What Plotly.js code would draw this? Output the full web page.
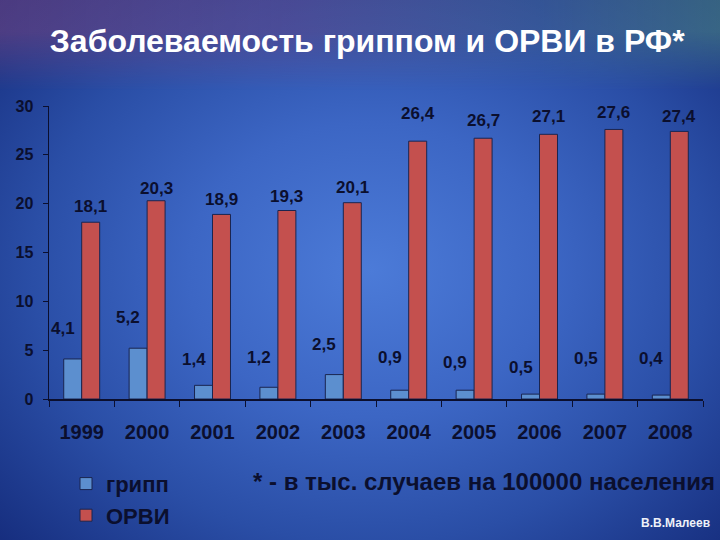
<!DOCTYPE html>
<html>
<head>
<meta charset="utf-8">
<script src="https://cdn.plot.ly/plotly-3.0.1.min.js"></script>
<style>
html,body{margin:0;padding:0;}
#wrap{position:relative;width:720px;height:540px;overflow:hidden;
 background:radial-gradient(ellipse 520px 420px at 370px 270px,#4c7bd8 0%,#3c66c4 35%,#2a4ea6 65%,#1a3486 90%,#14297a 100%);}
#top{position:absolute;left:0;top:0;width:720px;height:90px;
 background:linear-gradient(to right,rgba(120,70,130,0.55) 0%,rgba(110,70,130,0.45) 40%,rgba(70,100,140,0.45) 75%,rgba(80,140,130,0.55) 100%);
 -webkit-mask-image:linear-gradient(to bottom,black 0%,black 35%,transparent 100%);
 mask-image:linear-gradient(to bottom,black 0%,black 35%,transparent 100%);}
#chart{position:absolute;left:0;top:0;width:720px;height:540px;}
</style>
</head>
<body>
<div id="wrap"><div id="top"></div><div id="chart"></div></div>
<script>
// Data
var years = ["1999","2000","2001","2002","2003","2004","2005","2006","2007","2008"];
var gripp = [4.1, 5.2, 1.4, 1.2, 2.5, 0.9, 0.9, 0.5, 0.5, 0.4];
var orvi  = [18.1, 20.3, 18.9, 19.3, 20.1, 26.4, 26.7, 27.1, 27.6, 27.4];
// Label heights as placed in the original
var grippLabelY = [7.2, 8.3, 4.0, 4.2, 5.6, 4.3, 3.7, 3.2, 4.1, 4.1];
var orviLabelY  = [19.7, 21.6, 20.4, 20.7, 21.7, 29.2, 28.5, 28.9, 29.3, 28.9];
var seriesNames = ["грипп", "ОРВИ"];
var yTicks = [0, 5, 10, 15, 20, 25, 30];

var dark = "#0b0f2e";
var fam = "Liberation Sans, Arial, sans-serif";
function fmt(v){ return v.toFixed(1).replace(".", ","); }

var traces = [
 {type:"bar", name:seriesNames[0], x:years, y:gripp,
  marker:{color:"#5c8fcf", line:{color:"#1a2550", width:1}}, hoverinfo:"none"},
 {type:"bar", name:seriesNames[1], x:years, y:orvi,
  marker:{color:"#c4504e", line:{color:"#1a2550", width:1}}, hoverinfo:"none"}
];

var ann = [];
years.forEach(function(yr, i){
  ann.push({x:i, y:grippLabelY[i], xref:"x", yref:"y", text:fmt(gripp[i]), showarrow:false,
    xshift:-19, font:{family:fam, size:17, color:dark, weight:"bold"}});
  ann.push({x:i, y:orviLabelY[i], xref:"x", yref:"y", text:fmt(orvi[i]), showarrow:false,
    xshift:9, font:{family:fam, size:17, color:dark, weight:"bold"}});
});
ann.push({x:0.665, y:-0.28, xref:"paper", yref:"paper", xanchor:"center", yanchor:"middle",
  text:"* - в тыс. случаев на 100000 населения", showarrow:false,
  font:{family:fam, size:24, color:dark, weight:"bold"}});
ann.push({x:1.014, y:-0.423, xref:"paper", yref:"paper", xanchor:"right", yanchor:"middle",
  text:"В.В.Малеев", showarrow:false,
  font:{family:fam, size:12, color:"#eef1f8", weight:"bold"}});

var layout = {
  width:720, height:540,
  paper_bgcolor:"rgba(0,0,0,0)", plot_bgcolor:"rgba(0,0,0,0)",
  margin:{l:49, r:17, t:106, b:141, pad:0, autoexpand:false},
  title:{text:"Заболеваемость гриппом и ОРВИ в РФ*", x:0.51, xanchor:"center",
    y:0.924, yanchor:"middle", font:{family:fam, size:32, color:"#ffffff", weight:"bold"}},
  barmode:"group", bargap:0.45, bargroupgap:0,
  xaxis:{type:"category", range:[-0.5, 9.5], showline:true, linecolor:dark, linewidth:1.5,
    ticks:"outside", tickson:"boundaries", ticklen:6, tickcolor:dark, tickangle:0,
    tickfont:{family:fam, size:20, color:dark, weight:"bold"}, ticklabelstandoff:14,
    showgrid:false, zeroline:false, automargin:false},
  yaxis:{range:[0,30], tickvals:yTicks, showline:true, linecolor:dark, linewidth:1.5,
    ticks:"outside", ticklen:5, tickcolor:dark, automargin:false,
    tickfont:{family:fam, size:16, color:dark, weight:"bold"}, ticklabelstandoff:6,
    showgrid:false, zeroline:false},
  showlegend:true,
  legend:{x:0.026, y:0.143, xref:"paper", yref:"container", xanchor:"left", yanchor:"top", orientation:"v",
    bgcolor:"rgba(0,0,0,0)", tracegroupgap:0, itemwidth:30,
    font:{family:fam, size:22, color:dark, weight:"bold"}, traceorder:"normal"},
  annotations:ann
};

Plotly.newPlot("chart", traces, layout, {displayModeBar:false, staticPlot:true});
</script>
</body>
</html>
